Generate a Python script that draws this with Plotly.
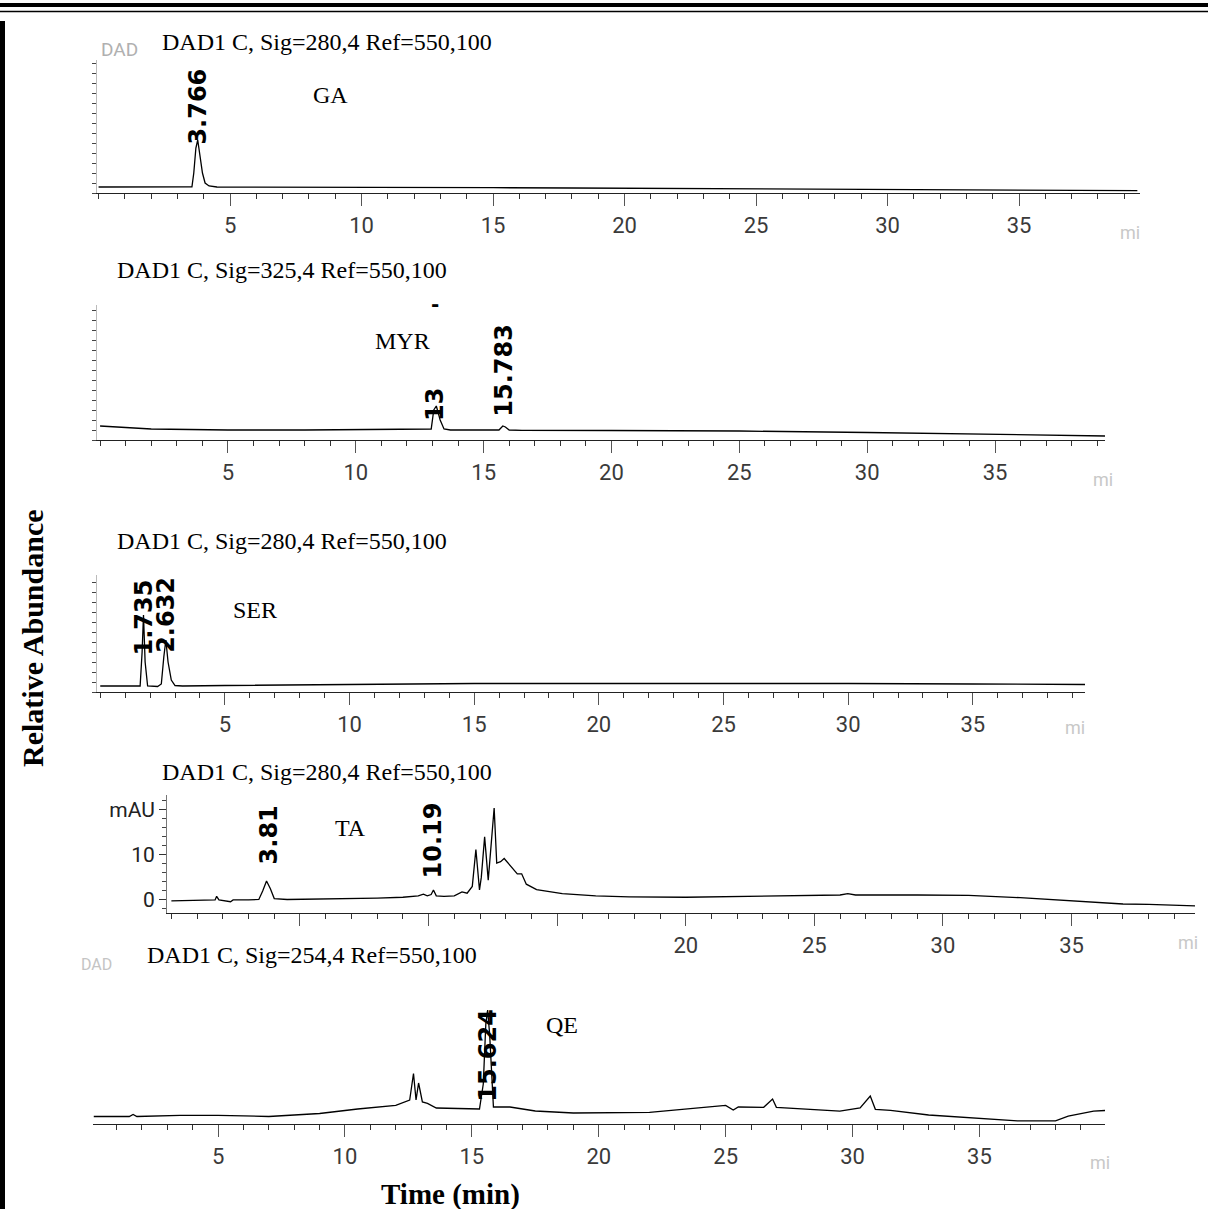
import plotly.graph_objects as go

W, H = 1208, 1209

# ---------------- data ----------------
ga_time = [0, 1, 2, 3, 3.55, 3.62, 3.70, 3.77, 3.85, 3.95, 4.05, 4.2, 4.5, 6, 8, 10, 12, 15, 18, 21, 24, 27, 30, 33, 36, 39.5]
ga_signal = [6, 6, 6, 6, 6.2, 20, 45, 53, 40, 20, 10, 7, 6, 6, 5.8, 5.6, 5.5, 5.3, 5, 4.7, 4.4, 4, 3.6, 3.2, 2.8, 2.4]

myr_time = [0, 0.5, 1, 2, 3, 5, 8, 10, 11, 12.5, 12.95, 13.05, 13.15, 13.3, 13.45, 13.7, 15, 15.6, 15.75, 15.85, 16.0, 16.5, 20, 25, 30, 35, 39.3]
myr_signal = [14, 13.5, 12.5, 11, 10.5, 10, 10, 10.5, 10.5, 10.5, 11, 30, 34, 20, 11, 10, 9.8, 10, 14, 13, 10, 9.6, 9.5, 9, 7.5, 6, 4]

ser_time = [0, 1, 1.6, 1.68, 1.735, 1.8, 1.9, 2.3, 2.45, 2.55, 2.632, 2.72, 2.85, 3.0, 3.3, 5, 8, 10, 13, 15, 20, 25, 30, 35, 39.5]
ser_signal = [6, 6, 6, 40, 77, 30, 6, 5.5, 8, 35, 52, 30, 12, 6.5, 6, 6.5, 7, 8, 8.5, 8.5, 8.5, 8.8, 8.5, 8, 7.5]

ta_time = [0, 1.0, 1.7, 1.76, 1.85, 2.3, 2.4, 3.0, 3.4, 3.55, 3.7, 3.85, 4.0, 4.5, 6, 8, 9, 9.6, 9.8, 9.95,
           10.1, 10.19, 10.3, 10.6, 11.0, 11.3, 11.5, 11.7, 11.84, 11.98, 12.05, 12.18, 12.32, 12.55, 12.65,
           12.8, 12.94, 13.2, 13.45, 13.62, 13.8, 14.2, 15.2, 16.5, 17.8, 20, 23, 26, 26.3, 26.6, 29, 31, 33,
           35, 37, 38, 39.8]
ta_signal = [-0.2, -0.1, 0, 0.8, 0, -0.4, 0, 0, 0.1, 2, 4.2, 2.5, 0.3, 0.1, 0.2, 0.4, 0.6, 0.9, 1.3, 0.9,
             1.2, 2.2, 0.9, 0.8, 0.9, 1.8, 1.5, 3, 11.2, 2.2, 5, 14, 4.4, 20.4, 8.2,
             8.5, 9.2, 7.5, 5.8, 5.8, 3.5, 2.3, 1.4, 0.9, 0.7, 0.6, 0.8, 1.1, 1.4, 1.1, 1.1, 1.0, 0.5,
             -0.2, -0.9, -1.0, -1.3]

qe_time = [0.1, 1.5, 1.65, 1.8, 3.5, 5, 7, 9, 10.5, 12, 12.55, 12.7, 12.8, 12.9, 13.05, 13.25, 13.6, 15.3, 15.45,
           15.55, 15.62, 15.7, 15.85, 16.5, 17.5, 19, 22, 24, 25, 25.3, 25.5, 26.5, 26.85, 27.0, 27.5, 28.5,
           29.5, 30.3, 30.7, 30.9, 31.5, 33, 35, 36.5, 38, 38.5, 39.5, 39.95]
qe_signal = [7.5, 7.5, 9.5, 7.5, 8.6, 8.6, 7.5, 10.5, 15, 18.7, 24, 50.5, 24, 41, 22, 20.6, 16, 15, 40,
             100, 114, 90, 17, 17, 13, 11, 11.6, 16.7, 18.6, 14, 17, 16.7, 25, 16.7, 16, 14.7,
             12.8, 16, 28, 14.7, 13.6, 9, 5.8, 3.1, 3.1, 7.8, 12.8, 13.5]

compounds = ["GA", "MYR", "SER", "TA", "QE"]
signal_titles = ["DAD1 C, Sig=280,4 Ref=550,100", "DAD1 C, Sig=325,4 Ref=550,100",
                 "DAD1 C, Sig=280,4 Ref=550,100", "DAD1 C, Sig=280,4 Ref=550,100",
                 "DAD1 C, Sig=254,4 Ref=550,100"]
peak_rt = [[3.766], [13.1, 15.783], [1.735, 2.632], [3.81, 10.19], [15.624]]
peak_text = [["3.766"], ["13", "15.783"], ["1.735", "2.632"], ["3.81", "10.19"], ["15.624"]]
x_tick_vals = [5, 10, 15, 20, 25, 30, 35]
x_tick_text = ["5", "10", "15", "20", "25", "30", "35"]
# in the TA panel the 5/10/15 labels are hidden under the next panel's heading
ta_x_tick_text = ["", "", "", "20", "25", "30", "35"]
ta_y_tick_vals = [0, 10, 20]
ta_y_tick_text = ["0", "10", "mAU"]
y_axis_title = "Relative Abundance"
x_axis_title = "Time (min)"

times = [ga_time, myr_time, ser_time, ta_time, qe_time]
signals = [ga_signal, myr_signal, ser_signal, ta_signal, qe_signal]
x_texts = [x_tick_text, x_tick_text, x_tick_text, ta_x_tick_text, x_tick_text]

# ---------------- layout of the panels (pixels) ----------------
panel_cfg = [
    dict(xpx=(97, 1140), xr=(-0.06, 39.6), ypx=(60, 193), yr=(0, 133),
         title_xy=(160, 42), comp_xy=(330, 95), lab_y=[86], mi=(1130, 232), yaxis=True),
    dict(xpx=(97, 1105), xr=(-0.12, 39.3), ypx=(305, 440), yr=(0, 135),
         title_xy=(115, 270), comp_xy=(402, 341), lab_y=[35, 70], mi=(1103, 480), yaxis=True),
    dict(xpx=(97, 1085), xr=(-0.13, 39.5), ypx=(575, 692), yr=(0, 117),
         title_xy=(115, 541), comp_xy=(255, 610), lab_y=[74, 77], mi=(1075, 727), yaxis=True),
    dict(xpx=(167, 1195), xr=(-0.17, 39.8), ypx=(795, 913), yr=(-2.9, 23.3),
         title_xy=(160, 772), comp_xy=(350, 828), lab_y=[14.4, 13.3], mi=(1188, 942), yaxis=True),
    dict(xpx=(93, 1105), xr=(0.07, 39.95), ypx=(1000, 1124), yr=(0, 124),
         title_xy=(145, 955), comp_xy=(562, 1025), lab_y=[69], mi=(1100, 1162), yaxis=False),
]


def px(x):
    return x / W


def py(y):
    return 1 - y / H


serif = "Liberation Serif, Times New Roman, serif"
narrow = "Liberation Sans Narrow, Arial Narrow, Roboto, sans-serif"
bold_sans = "DejaVu Sans, Arial Black, sans-serif"

fig = go.Figure()
layout = dict(width=W, height=H, margin=dict(l=0, r=0, t=0, b=0),
              paper_bgcolor="white", plot_bgcolor="white", showlegend=False)
annotations = []

for i, cfg in enumerate(panel_cfg):
    n = i + 1
    xa = "x" if n == 1 else f"x{n}"
    ya = "y" if n == 1 else f"y{n}"
    fig.add_trace(go.Scatter(x=times[i], y=signals[i], mode="lines",
                             line=dict(color="black", width=1.3),
                             xaxis=xa, yaxis=ya, hoverinfo="skip", cliponaxis=True))
    xkey = "xaxis" if n == 1 else f"xaxis{n}"
    ykey = "yaxis" if n == 1 else f"yaxis{n}"
    layout[xkey] = dict(
        domain=[px(cfg["xpx"][0]), px(cfg["xpx"][1])], range=list(cfg["xr"]),
        anchor=ya, showgrid=False, zeroline=False, showline=True,
        linecolor="#222", linewidth=1.2, ticks="outside", ticklen=12, tickwidth=1,
        tickcolor="#555", tickvals=x_tick_vals, ticktext=x_texts[i],
        tickfont=dict(family=narrow, size=22, color="#3a3a3a"),
        minor=dict(ticks="outside", ticklen=5, dtick=1, tickcolor="#333", tickwidth=1),
        fixedrange=True,
    )
    ydict = dict(
        domain=[py(cfg["ypx"][1]), py(cfg["ypx"][0])], range=list(cfg["yr"]),
        anchor=xa, showgrid=False, zeroline=False, fixedrange=True,
    )
    if n == 4:
        ydict.update(showline=True, linecolor="#777", linewidth=1, ticks="outside",
                     ticklen=7, tickcolor="#333", tickvals=ta_y_tick_vals, ticktext=ta_y_tick_text,
                     tickfont=dict(family=narrow, size=21, color="#222"),
                     minor=dict(ticks="outside", ticklen=4, dtick=2, tickcolor="#444"))
    elif cfg["yaxis"]:
        ydict.update(showline=True, linecolor="#bbb", linewidth=1, ticks="outside",
                     ticklen=4, tickcolor="#444", dtick=10, showticklabels=False)
    else:
        ydict.update(showline=False, showticklabels=False, ticks="")
    layout[ykey] = ydict

    # signal title
    annotations.append(dict(x=px(cfg["title_xy"][0]), y=py(cfg["title_xy"][1]), xref="paper", yref="paper",
                            text=signal_titles[i], showarrow=False, xanchor="left", yanchor="middle",
                            font=dict(family=serif, size=24, color="black")))
    # compound name
    annotations.append(dict(x=px(cfg["comp_xy"][0]), y=py(cfg["comp_xy"][1]), xref="paper", yref="paper",
                            text=compounds[i], showarrow=False, xanchor="center", yanchor="middle",
                            font=dict(family=serif, size=24, color="black")))
    # retention-time labels
    for rt, txt, ly in zip(peak_rt[i], peak_text[i], cfg["lab_y"]):
        annotations.append(dict(x=rt, y=ly, xref=xa, yref=ya, text=f"<b>{txt}</b>", showarrow=False,
                                textangle=-90, xanchor="center", yanchor="middle",
                                font=dict(family=bold_sans, size=24, color="black")))
    # faded "min" remnant at axis end
    annotations.append(dict(x=px(cfg["mi"][0]), y=py(cfg["mi"][1]), xref="paper", yref="paper",
                            text="mi", showarrow=False, xanchor="center", yanchor="middle",
                            font=dict(family=narrow, size=18, color="#c8c8c8")))

# remnant marks of the scanned originals
annotations.append(dict(x=px(13.1 * 25.6 + 100), y=py(304), xref="paper", yref="paper", text="<b>-</b>",
                        showarrow=False, xanchor="center", yanchor="middle",
                        font=dict(family=bold_sans, size=20, color="black")))
annotations.append(dict(x=px(120), y=py(36), xref="paper", yref="paper", text="DAD", showarrow=False,
                        xanchor="center", font=dict(family=narrow, size=19, color="#b0b0b0")))
annotations.append(dict(x=px(114), y=py(976), xref="paper", yref="paper", text="DAD", showarrow=False,
                        xanchor="right", font=dict(family=narrow, size=16, color="#c4c4c4")))

# axis titles
annotations.append(dict(x=px(32), y=py(638), xref="paper", yref="paper", text=f"<b>{y_axis_title}</b>",
                        showarrow=False, textangle=-90, xanchor="center", yanchor="middle",
                        font=dict(family=serif, size=30, color="black")))
annotations.append(dict(x=px(450), y=py(1194), xref="paper", yref="paper", text=f"<b>{x_axis_title}</b>",
                        showarrow=False, xanchor="center", yanchor="middle",
                        font=dict(family=serif, size=29, color="black")))

layout["annotations"] = annotations
layout["shapes"] = [
    dict(type="line", xref="paper", yref="paper", x0=0, x1=1, y0=py(5), y1=py(5),
         line=dict(color="black", width=4)),
    dict(type="line", xref="paper", yref="paper", x0=0, x1=1, y0=py(11.5), y1=py(11.5),
         line=dict(color="black", width=1.5)),
    dict(type="rect", xref="paper", yref="paper", x0=0, x1=px(5), y0=0, y1=py(21),
         fillcolor="black", line=dict(width=0)),
]

fig.update_layout(**layout)
fig.write_html("out.html")
